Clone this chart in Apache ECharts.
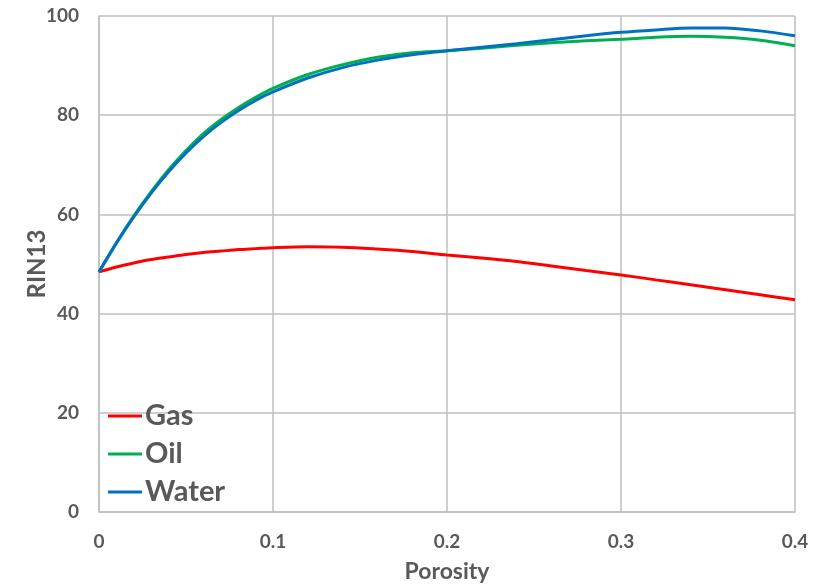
<!DOCTYPE html>
<html>
<head>
<meta charset="utf-8">
<script src="https://cdn.jsdelivr.net/npm/echarts@6/dist/echarts.min.js"></script>
<style>
  html, body { margin: 0; padding: 0; background: #fff; }
  #chart { width: 825px; height: 584px; }
</style>
</head>
<body>
<div id="chart"></div>
<script>
// Porosity sample points (fraction)
const porosity = [0, 0.01, 0.02, 0.03, 0.04, 0.05, 0.06, 0.07, 0.08, 0.09, 0.10,
  0.12, 0.14, 0.16, 0.18, 0.20, 0.22, 0.24, 0.26, 0.28, 0.30,
  0.32, 0.34, 0.36, 0.38, 0.40];

// RIN13 response for each pore fluid
const gas = [48.4, 49.4, 50.2, 50.9, 51.4, 51.9, 52.3, 52.6, 52.9, 53.1, 53.3,
  53.5, 53.4, 53.0, 52.5, 51.8, 51.2, 50.5, 49.6, 48.7, 47.8,
  46.8, 45.8, 44.8, 43.8, 42.8];
const oil = [48.4, 54.3, 59.7, 64.6, 69.0, 72.9, 76.3, 79.1, 81.5, 83.6, 85.4,
  88.2, 90.2, 91.7, 92.6, 93.0, 93.5, 94.1, 94.6, 95.0, 95.3,
  95.7, 95.9, 95.7, 95.1, 94.0];
const water = [48.4, 54.2, 59.5, 64.3, 68.6, 72.4, 75.7, 78.5, 80.9, 83.0, 84.7,
  87.5, 89.6, 91.1, 92.2, 93.0, 93.7, 94.4, 95.2, 96.0, 96.7,
  97.2, 97.6, 97.6, 97.0, 96.0];

const seriesNames = ['Gas', 'Oil', 'Water'];
const seriesColors = ['#ff0000', '#00b050', '#0070c0'];

const xTicks = { min: 0, max: 0.4, interval: 0.1 };
const yTicks = { min: 0, max: 100, interval: 20 };

const textGray = '#595959';
const gridGray = '#bfbfbf';
const font = 'Lato, "Open Sans", sans-serif';

const pairs = (ys) => porosity.map((x, i) => [x, ys[i]]);
const dataSets = [gas, oil, water];

const chart = echarts.init(document.getElementById('chart'), null, { renderer: 'canvas' });
chart.setOption({
  animation: false,
  backgroundColor: '#ffffff',
  grid: { left: 99, right: 30, top: 16, bottom: 72, containLabel: false, outerBoundsMode: 'none' },
  legend: {
    data: seriesNames,
    orient: 'vertical',
    left: 108,
    top: 401,
    padding: 0,
    icon: 'rect',
    itemWidth: 34,
    itemHeight: 3,
    itemGap: 8,
    textStyle: {
      color: textGray, fontFamily: font, fontWeight: 'bold', fontSize: 29,
      lineHeight: 30, padding: [0, 0, 0, -2]
    }
  },
  xAxis: {
    type: 'value',
    min: xTicks.min, max: xTicks.max, interval: xTicks.interval,
    name: 'Porosity',
    nameLocation: 'middle',
    nameGap: 48,
    nameMoveOverlap: false,
    nameTextStyle: { color: textGray, fontFamily: font, fontWeight: 'bold', fontSize: 23 },
    axisLine: { show: true, lineStyle: { color: gridGray, width: 1.5 } },
    axisTick: { show: false },
    axisLabel: { color: textGray, fontFamily: font, fontWeight: 'bold', fontSize: 19, margin: 20 },
    splitLine: { show: true, lineStyle: { color: gridGray, width: 1.5 } }
  },
  yAxis: {
    type: 'value',
    min: yTicks.min, max: yTicks.max, interval: yTicks.interval,
    name: 'RIN13',
    nameLocation: 'middle',
    nameGap: 50,
    nameMoveOverlap: false,
    nameRotate: 90,
    nameTextStyle: { color: textGray, fontFamily: font, fontWeight: 'bold', fontSize: 24 },
    axisLine: { show: true, lineStyle: { color: gridGray, width: 1.5 } },
    axisTick: { show: false },
    axisLabel: { color: textGray, fontFamily: font, fontWeight: 'bold', fontSize: 19, margin: 20 },
    splitLine: { show: true, lineStyle: { color: gridGray, width: 1.5 } }
  },
  series: seriesNames.map((name, i) => ({
    name,
    type: 'line',
    data: pairs(dataSets[i]),
    smooth: 0.3,
    showSymbol: false,
    symbol: 'none',
    color: seriesColors[i],
    lineStyle: { color: seriesColors[i], width: 3 },
    z: 2 + i
  }))
});
</script>
</body>
</html>
